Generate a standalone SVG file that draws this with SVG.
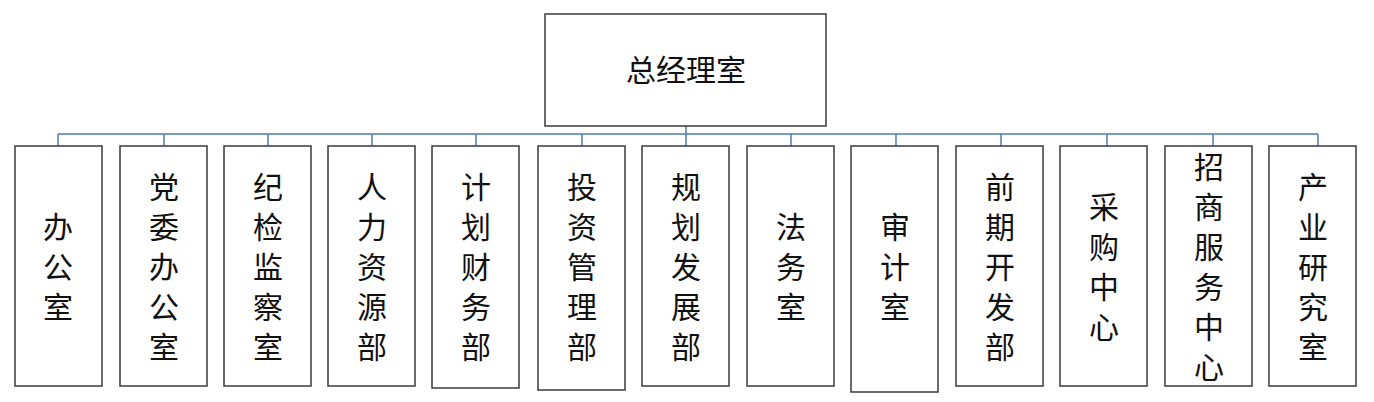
<svg xmlns="http://www.w3.org/2000/svg" width="1374" height="402" viewBox="0 0 1374 402">
<style>
.b{fill:#fff;stroke:#3a3a3a;stroke-width:1.5}
.t{font-family:"Noto Sans CJK SC",sans-serif;font-size:30px;fill:#111;text-anchor:middle}
.c{stroke:#4f7fb0;stroke-width:1.5;fill:none}
</style>
<rect width="1374" height="402" fill="#fff"/>
<g id="connectors">
<path class="c" d="M686 126V146M58 134H1318M58 134V146M164 134V146M268 134V146M372 134V146M476 134V146M582 134V146M791 134V146M896 134V146M1001 134V146M1107 134V146M1213 134V146M1318 134V146"/>
</g>
<g id="top"><rect class="b" x="545" y="14" width="281" height="112"/><text class="t" x="686" y="81" font-size="28">总经理室</text></g>
<g id="n1"><rect class="b" x="15" y="146" width="87" height="240"/><text class="t" x="58" y="238">办</text><text class="t" x="58" y="278">公</text><text class="t" x="58" y="318">室</text></g>
<g id="n2"><rect class="b" x="120" y="146" width="87" height="240"/><text class="t" x="164" y="198">党</text><text class="t" x="164" y="238">委</text><text class="t" x="164" y="278">办</text><text class="t" x="164" y="318">公</text><text class="t" x="164" y="358">室</text></g>
<g id="n3"><rect class="b" x="224" y="146" width="87" height="240"/><text class="t" x="268" y="198">纪</text><text class="t" x="268" y="238">检</text><text class="t" x="268" y="278">监</text><text class="t" x="268" y="318">察</text><text class="t" x="268" y="358">室</text></g>
<g id="n4"><rect class="b" x="328" y="146" width="87" height="240"/><text class="t" x="372" y="198">人</text><text class="t" x="372" y="238">力</text><text class="t" x="372" y="278">资</text><text class="t" x="372" y="318">源</text><text class="t" x="372" y="358">部</text></g>
<g id="n5"><rect class="b" x="432" y="146" width="87" height="242"/><text class="t" x="476" y="198">计</text><text class="t" x="476" y="238">划</text><text class="t" x="476" y="278">财</text><text class="t" x="476" y="318">务</text><text class="t" x="476" y="358">部</text></g>
<g id="n6"><rect class="b" x="538" y="146" width="87" height="244"/><text class="t" x="582" y="198">投</text><text class="t" x="582" y="238">资</text><text class="t" x="582" y="278">管</text><text class="t" x="582" y="318">理</text><text class="t" x="582" y="358">部</text></g>
<g id="n7"><rect class="b" x="642" y="146" width="87" height="240"/><text class="t" x="686" y="198">规</text><text class="t" x="686" y="238">划</text><text class="t" x="686" y="278">发</text><text class="t" x="686" y="318">展</text><text class="t" x="686" y="358">部</text></g>
<g id="n8"><rect class="b" x="747" y="146" width="87" height="240"/><text class="t" x="791" y="238">法</text><text class="t" x="791" y="278">务</text><text class="t" x="791" y="318">室</text></g>
<g id="n9"><rect class="b" x="851" y="146" width="87" height="246"/><text class="t" x="895" y="238">审</text><text class="t" x="895" y="278">计</text><text class="t" x="895" y="318">室</text></g>
<g id="n10"><rect class="b" x="956" y="146" width="87" height="240"/><text class="t" x="1000" y="198">前</text><text class="t" x="1000" y="238">期</text><text class="t" x="1000" y="278">开</text><text class="t" x="1000" y="318">发</text><text class="t" x="1000" y="358">部</text></g>
<g id="n11"><rect class="b" x="1060" y="146" width="87" height="240"/><text class="t" x="1104" y="218">采</text><text class="t" x="1104" y="258">购</text><text class="t" x="1104" y="298">中</text><text class="t" x="1104" y="338">心</text></g>
<g id="n12"><rect class="b" x="1165" y="146" width="87" height="240"/><text class="t" x="1209" y="178">招</text><text class="t" x="1209" y="218">商</text><text class="t" x="1209" y="258">服</text><text class="t" x="1209" y="298">务</text><text class="t" x="1209" y="338">中</text><text class="t" x="1209" y="378">心</text></g>
<g id="n13"><rect class="b" x="1269" y="146" width="87" height="240"/><text class="t" x="1313" y="198">产</text><text class="t" x="1313" y="238">业</text><text class="t" x="1313" y="278">研</text><text class="t" x="1313" y="318">究</text><text class="t" x="1313" y="358">室</text></g>
</svg>
